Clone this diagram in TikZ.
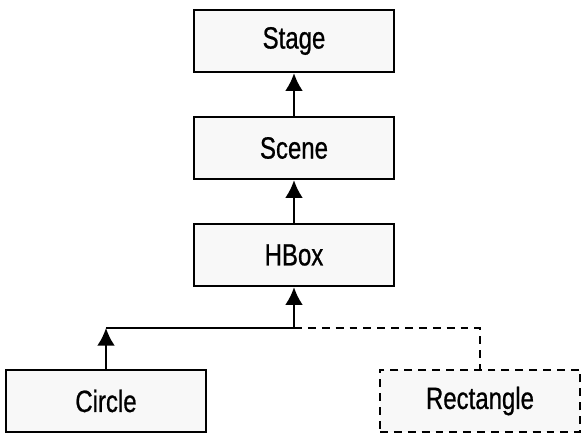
\documentclass[tikz,border=0pt]{standalone}
\usepackage{fontspec}
\setmainfont[FakeStretch=0.78,FakeBold=0.7]{Liberation Sans}
\usepackage{tikz}
\usetikzlibrary{arrows.meta}
\definecolor{boxfill}{RGB}{248,248,248}

\begin{document}
\begin{tikzpicture}[>={Latex[length=10pt,width=10pt]},line width=1.1pt,
  cls/.style={draw,fill=boxfill,minimum width=4cm,minimum height=1.25cm,
    font=\fontsize{17.5}{19}\selectfont},
  optcls/.style={cls,dash pattern=on 4.5pt off 3.4pt},
  link/.style={->}]
\useasboundingbox (0,0) rectangle (11.62,8.68);

% ---------------- Scene graph ----------------
\node[cls] (stage) at (5.88,7.86) {Stage};
\node[cls] (scene) at (5.88,5.72) {Scene};
\node[cls] (hbox) at (5.88,3.58) {HBox};

\draw[link] (scene.north) -- (stage.south);
\draw[link] (hbox.north) -- (scene.south);

% ---------------- Children ----------------
\node[cls] (circle) at (2.12,0.66) {Circle};
\node[optcls] (rect) at (9.6,0.66) {Rectangle};

\coordinate (join) at (5.88,2.12);
\draw[link] (join) -- (hbox.south);
\draw[link] (circle.north) -- (circle.north |- join);
\draw (circle.north |- join) -- (join);
\draw[dash pattern=on 4.5pt off 3.4pt] (join) -| (rect.north);

\end{tikzpicture}
\end{document}
